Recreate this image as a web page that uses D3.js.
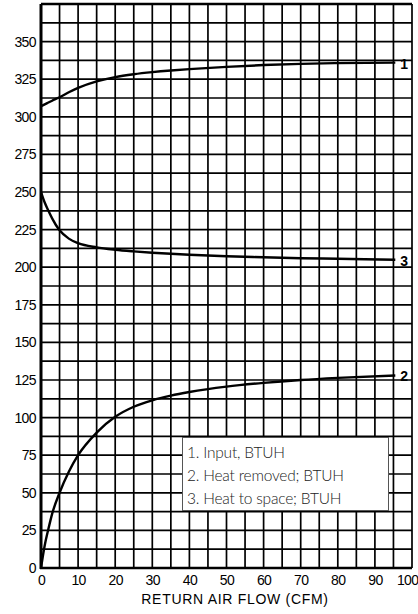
<!DOCTYPE html>
<html>
<head>
<meta charset="utf-8">
<script src="https://cdn.jsdelivr.net/npm/d3@7/dist/d3.min.js"></script>
<style>
  html, body { margin: 0; padding: 0; background: #fff; }
  svg { display: block; }
</style>
</head>
<body>
<svg id="chart" width="418" height="614"></svg>
<script>
// Return air flow (CFM) sample points shared by all three curves
const flow = [0, 1, 2, 3, 5, 7.5, 10, 15, 20, 25, 30, 35, 40, 50, 60, 70, 80, 95.5];
// 1. Input, BTUH
const inputBtuh = [307, 308.3, 309.5, 310.7, 313, 316.3, 319.2, 323.5, 326.4, 328.3, 329.7, 330.8, 331.7, 333.2, 334.4, 335.2, 335.7, 336];
// 2. Heat removed, BTUH
const heatRemoved = [0, 15, 26, 36, 50, 64, 75, 90, 100.5, 107.2, 111.5, 114.6, 117, 120.6, 123.1, 125, 126.4, 128];
// 3. Heat to space, BTUH
const heatToSpace = [250, 243, 237.5, 232.5, 224.5, 219, 216, 213.2, 211.6, 210.5, 209.6, 208.9, 208.3, 207.3, 206.6, 206, 205.6, 205];

const curveTags = ["1", "2", "3"];
const legendItems = ["1. Input, BTUH", "2. Heat removed; BTUH", "3. Heat to space; BTUH"];
const xTicks = [0, 10, 20, 30, 40, 50, 60, 70, 80, 90, 100];
const yTicks = [0, 25, 50, 75, 100, 125, 150, 175, 200, 225, 250, 275, 300, 325, 350];
const xGrid = d3.range(0, 100.001, 5);
const yGrid = d3.range(0, 375.001, 12.5);
const xTitle = "RETURN AIR FLOW (CFM)";

const svg = d3.select("#chart");
const x = d3.scaleLinear().domain([0, 100]).range([41, 412]);
const y = d3.scaleLinear().domain([0, 375]).range([568, 4]);

// grid
const grid = svg.append("g").attr("stroke", "#000").attr("stroke-width", 1.7);
grid.selectAll("line.v").data(xGrid).join("line")
  .attr("class", "v")
  .attr("x1", d => x(d)).attr("x2", d => x(d))
  .attr("y1", y(0)).attr("y2", y(375));
grid.selectAll("line.h").data(yGrid).join("line")
  .attr("class", "h")
  .attr("x1", x(0)).attr("x2", x(100))
  .attr("y1", d => y(d)).attr("y2", d => y(d));

// frame: heavier left and bottom edges
svg.append("line").attr("x1", x(0)).attr("x2", x(0)).attr("y1", y(0) + 1).attr("y2", y(375))
  .attr("stroke", "#000").attr("stroke-width", 3);
svg.append("line").attr("x1", x(0) - 1).attr("x2", x(100)).attr("y1", y(0)).attr("y2", y(0))
  .attr("stroke", "#000").attr("stroke-width", 2.6);
svg.append("line").attr("x1", x(0)).attr("x2", x(100)).attr("y1", y(375)).attr("y2", y(375))
  .attr("stroke", "#000").attr("stroke-width", 2.4);

// axes (labels only; lines come from the grid)
const yAxis = d3.axisLeft(y).tickValues(yTicks).tickSize(0).tickPadding(4);
const xAxis = d3.axisBottom(x).tickValues(xTicks).tickSize(0).tickPadding(7);
const gy = svg.append("g").attr("transform", `translate(${x(0) - 1},0)`).call(yAxis);
const gx = svg.append("g").attr("transform", `translate(0,${y(0)})`).call(xAxis);
[gy, gx].forEach(g => {
  g.select(".domain").remove();
  g.selectAll("text")
    .attr("fill", "#000")
    .style("font-family", "'Liberation Sans', Arial, sans-serif")
    .style("font-size", "14px")
    .style("letter-spacing", "-0.6px");
});
// last x label sits against the right edge of the page
gx.selectAll(".tick").filter(d => d === 100).select("text")
  .attr("text-anchor", "end")
  .attr("x", 418 - x(100));

svg.append("text")
  .attr("x", 235).attr("y", 604)
  .attr("text-anchor", "middle")
  .style("font-family", "'Liberation Sans', Arial, sans-serif")
  .style("font-size", "14px")
  .style("letter-spacing", "0.7px")
  .text(xTitle);

// curves
const series = [inputBtuh, heatRemoved, heatToSpace];
const line = d3.line()
  .x((d, i) => x(flow[i]))
  .y(d => y(d))
  .curve(d3.curveMonotoneX);
svg.append("g").selectAll("path").data(series).join("path")
  .attr("d", d => line(d))
  .attr("fill", "none")
  .attr("stroke", "#000")
  .attr("stroke-width", 2.4);

// curve numbers at the right end
svg.append("g").selectAll("text").data(series).join("text")
  .attr("x", x(flow[flow.length - 1]) + 5)
  .attr("y", d => y(d[d.length - 1]) + 6)
  .style("font-family", "'Liberation Sans', Arial, sans-serif")
  .style("font-size", "14px")
  .style("font-weight", "bold")
  .text((d, i) => curveTags[i]);

// legend box
const legend = svg.append("g");
legend.append("rect")
  .attr("x", 182.5).attr("y", 437.5).attr("width", 206).attr("height", 73)
  .attr("fill", "#fff").attr("stroke", "#555").attr("stroke-width", 1);
legend.selectAll("text").data(legendItems).join("text")
  .attr("x", 187)
  .attr("y", (d, i) => 457.5 + i * 23)
  .attr("fill", "#222")
  .style("font-family", "Lato, 'Open Sans', sans-serif")
  .style("font-weight", "300")
  .style("font-size", "15.5px")
  .style("letter-spacing", "-0.2px")
  .text(d => d);
</script>
</body>
</html>
